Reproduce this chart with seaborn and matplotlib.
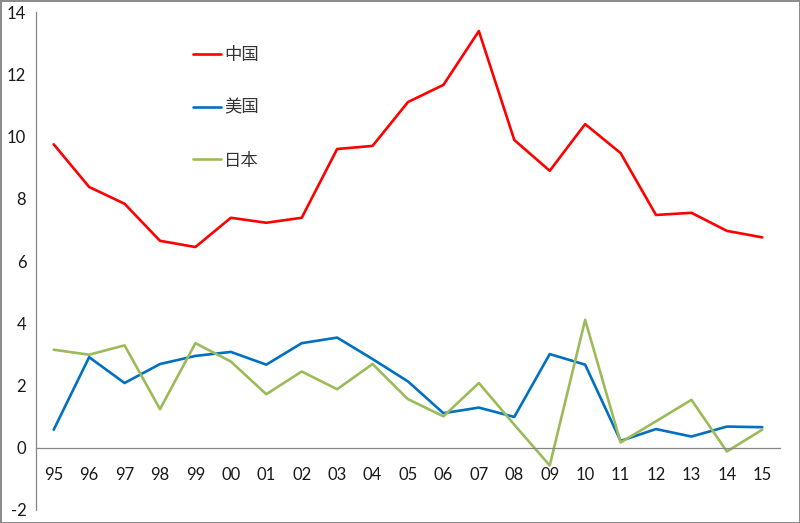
import pandas as pd
import seaborn as sns
import matplotlib.pyplot as plt
from matplotlib.ticker import FixedLocator, NullFormatter

sns.set_style("white")
plt.rcParams["font.family"] = ["Lato", "Noto Sans CJK SC", "DejaVu Sans"]
plt.rcParams["axes.unicode_minus"] = False

years = ["95", "96", "97", "98", "99", "00", "01", "02", "03", "04", "05",
         "06", "07", "08", "09", "10", "11", "12", "13", "14", "15"]
china = [9.75, 8.38, 7.84, 6.65, 6.45, 7.39, 7.23, 7.39, 9.6, 9.7, 11.11,
         11.66, 13.39, 9.89, 8.9, 10.4, 9.47, 7.48, 7.55, 6.97, 6.76]
usa = [0.58, 2.91, 2.08, 2.69, 2.95, 3.08, 2.67, 3.36, 3.54, 2.85, 2.13,
       1.11, 1.29, 0.99, 3.01, 2.67, 0.22, 0.6, 0.36, 0.68, 0.66]
japan = [3.15, 2.99, 3.29, 1.24, 3.36, 2.77, 1.72, 2.45, 1.88, 2.69, 1.56,
         1.01, 2.08, 0.74, -0.57, 4.11, 0.17, 0.85, 1.54, -0.12, 0.58]
series = ["中国", "美国", "日本"]
colors = ["#FF0000", "#0070C0", "#9BBB59"]

frames = []
for name, vals in zip(series, [china, usa, japan]):
    frames.append(pd.DataFrame({"x": range(len(years)), "value": vals, "country": name}))
df = pd.concat(frames)

fig = plt.figure(figsize=(8, 5.23), dpi=100)
fig.patch.set_edgecolor("#8c8c8c")
fig.patch.set_linewidth(2)
ax = fig.add_axes([0.045, 0.0249, 0.93, 0.952])

sns.lineplot(data=df, x="x", y="value", hue="country", palette=colors,
             linewidth=1.9, ax=ax, legend=False)

ax.set_xlim(-0.5, len(years) - 0.5)
ax.set_ylim(-2, 14)
ax.set_yticks(range(-2, 15, 2))
ax.set_xlabel("")
ax.set_ylabel("")

for s in ["top", "right"]:
    ax.spines[s].set_visible(False)
ax.spines["bottom"].set_position(("data", 0))
for s in ["left", "bottom"]:
    ax.spines[s].set_color("#868686")
    ax.spines[s].set_linewidth(0.9)

# category labels without ticks, ticks at category boundaries
ax.set_xticks(range(len(years)))
ax.set_xticklabels(years)
ax.xaxis.set_minor_locator(FixedLocator([i - 0.5 for i in range(len(years) + 1)]))
ax.xaxis.set_minor_formatter(NullFormatter())
ax.tick_params(axis="x", which="major", length=0, pad=14, labelsize=12, colors="#1a1a1a")
ax.tick_params(axis="x", which="minor", length=5, width=0.9, color="#868686", direction="out")
ax.tick_params(axis="y", length=5, width=0.9, color="#868686", labelsize=12,
               labelcolor="#1a1a1a", pad=2)

handles = [plt.Line2D([], [], color=c, linewidth=1.9) for c in colors]
leg = ax.legend(handles, series, loc="upper left", bbox_to_anchor=(0.19, 0.963),
                frameon=False, handlelength=1.6, handletextpad=0.2,
                labelspacing=2.0,
                prop={"family": ["Noto Sans CJK SC", "DejaVu Sans"], "size": 12.5})
for t in leg.get_texts():
    t.set_color("#333333")

plt.savefig("out.png", dpi=100)
